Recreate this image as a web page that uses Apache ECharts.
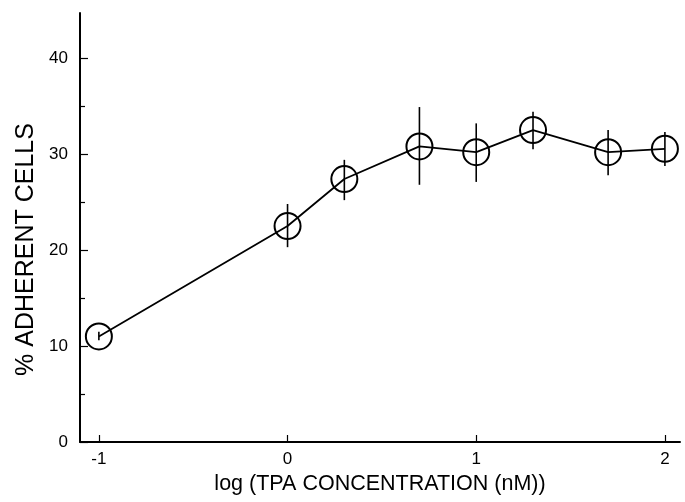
<!DOCTYPE html>
<html>
<head>
<meta charset="utf-8">
<script src="https://cdn.jsdelivr.net/npm/echarts@6/dist/echarts.min.js"></script>
<style>html,body{margin:0;padding:0;background:#fff}#c{width:685px;height:502px}</style>
</head>
<body>
<div id="c"></div>
<script>
var logConc = [-1, 0, 0.301, 0.699, 1, 1.301, 1.699, 2];
var adherent = [11.0, 22.5, 27.4, 30.8, 30.2, 32.5, 30.2, 30.55];
var errUpper = [11.5, 24.8, 29.4, 34.9, 33.2, 34.4, 32.5, 32.3];
var errLower = [10.6, 20.3, 25.2, 26.8, 27.1, 30.5, 27.8, 28.75];
var xTicks = [-1, 0, 1, 2];
var yMajorTicks = [0, 10, 20, 30, 40];
var yMinorTicks = [5, 15, 25, 35];

var font = 'Liberation Sans, Arial, Helvetica, sans-serif';
var chart = echarts.init(document.getElementById('c'));
var lineData = logConc.map(function (x, i) { return [x, adherent[i]]; });
var errData = logConc.map(function (x, i) { return [x, errLower[i], errUpper[i]]; });

chart.setOption({
  animation: false,
  grid: { left: 80, right: 5, top: 13, bottom: 60 },
  xAxis: {
    type: 'value', min: -1.1, max: 2.08,
    name: 'log (TPA CONCENTRATION (nM))', nameLocation: 'middle', nameGap: 27,
    nameTextStyle: { fontFamily: font, fontSize: 21.5, color: '#000' },
    axisLine: { show: true, onZero: false, lineStyle: { color: '#000', width: 2 } },
    axisTick: { show: true, inside: true, length: 7, customValues: xTicks, lineStyle: { color: '#000', width: 1.2 } },
    axisLabel: { customValues: xTicks, fontFamily: font, fontSize: 17, color: '#000', margin: 9 },
    splitLine: { show: false }
  },
  yAxis: [{
    type: 'value', min: 0, max: 44.7,
    name: '% ADHERENT CELLS', nameLocation: 'middle', nameGap: 37,
    nameTextStyle: { fontFamily: font, fontSize: 25, color: '#000', padding: [0, 44, 0, 0] },
    axisLine: { show: true, onZero: false, lineStyle: { color: '#000', width: 2 } },
    axisTick: { show: true, inside: true, length: 8, customValues: yMajorTicks, lineStyle: { color: '#000', width: 1.2 } },
    axisLabel: { customValues: yMajorTicks, fontFamily: font, fontSize: 17, color: '#000', margin: 12 },
    splitLine: { show: false }
  }, {
    type: 'value', min: 0, max: 44.7, position: 'left', offset: 0,
    axisLine: { show: false, onZero: false },
    axisTick: { show: true, inside: true, length: 5, customValues: yMinorTicks, lineStyle: { color: '#000', width: 1.2 } },
    axisLabel: { show: false },
    splitLine: { show: false }
  }],
  series: [{
    type: 'line',
    data: lineData,
    symbol: 'circle', symbolSize: 26,
    itemStyle: { color: 'rgba(255,255,255,0)', borderColor: '#000', borderWidth: 2 },
    lineStyle: { color: '#000', width: 1.8 },
    z: 3
  }, {
    type: 'custom',
    data: errData,
    renderItem: function (params, api) {
      var top = api.coord([api.value(0), api.value(2)]);
      var bot = api.coord([api.value(0), api.value(1)]);
      return { type: 'line', shape: { x1: top[0], y1: top[1], x2: bot[0], y2: bot[1] }, style: { stroke: '#000', lineWidth: 1.6 } };
    },
    z: 2
  }]
});
</script>
</body>
</html>
